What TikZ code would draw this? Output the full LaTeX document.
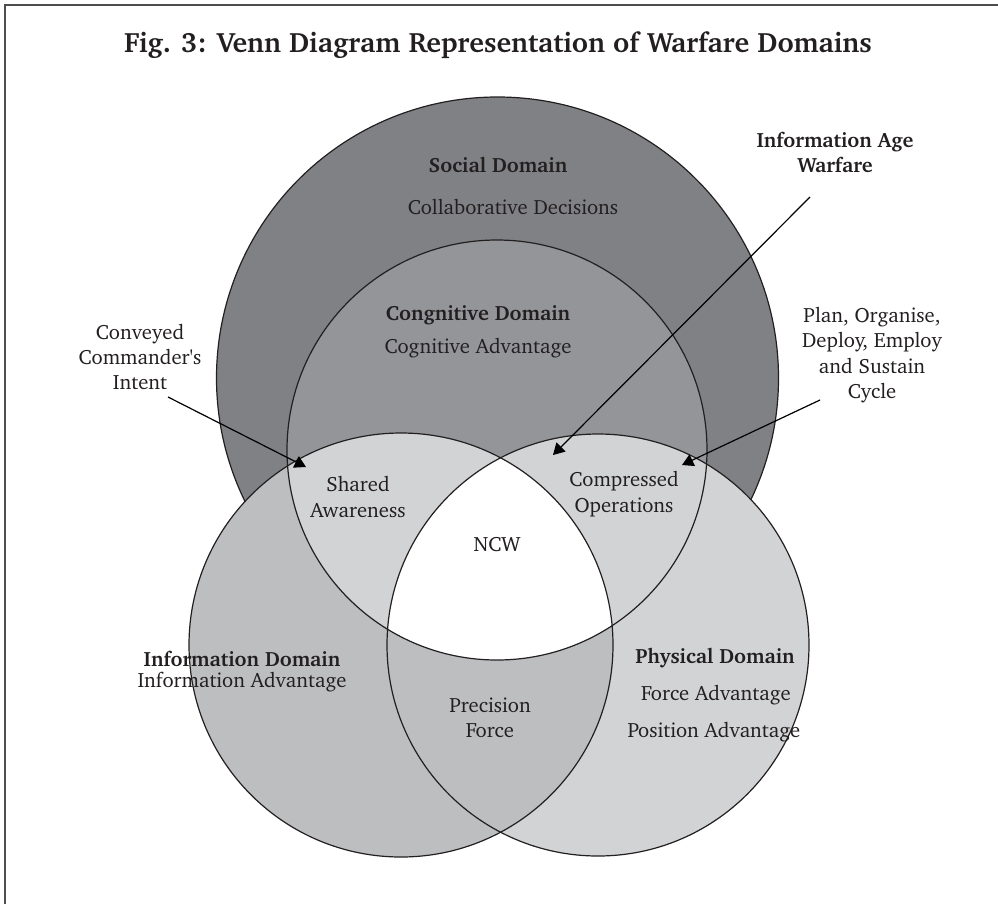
\documentclass[tikz,border=0pt]{standalone}
\usepackage[T1]{fontenc}
\usepackage{charter}
\usetikzlibrary{arrows.meta}

\definecolor{socialgray}{HTML}{808184}
\definecolor{coggray}{HTML}{939598}
\definecolor{infogray}{HTML}{BCBEC0}
\definecolor{physgray}{HTML}{D1D3D4}
\definecolor{inkgray}{HTML}{231F20}
\definecolor{framegray}{HTML}{4D4D4D}

\tikzset{
  lbl/.style={text=inkgray, font=\fontsize{15.5}{19}\selectfont, align=center, inner sep=0pt},
  hdr/.style={lbl, font=\bfseries\fontsize{15.5}{19}\selectfont},
  rim/.style={draw=inkgray, line width=0.9pt},
  pointer/.style={draw=black, line width=0.9pt, -{Triangle[length=8.5pt,width=9.5pt]}},
}

\begin{document}
\begin{tikzpicture}[x=0.75pt, y=-0.75pt]
\useasboundingbox (0,0) rectangle (998,904);

% open frame: top and left rules
\draw[framegray, line width=1.1pt] (5,904) -- (5,5) -- (998,5);

% circle centres
\coordinate (cS) at (497.5,378);
\coordinate (cC) at (497,450);
\coordinate (cI) at (401,645);
\coordinate (cP) at (598,645);

% social domain
\fill[socialgray] (cS) circle[radius=210.75pt];
\draw[rim] (cS) circle[radius=210.75pt];
% cognitive domain
\fill[coggray] (cC) circle[radius=157.5pt];
% physical and information domains
\fill[physgray] (cP) circle[radius=158.25pt];
\fill[infogray] (cI) circle[radius=159pt];
% shared awareness: information and cognitive
\begin{scope}
  \clip (cI) circle[radius=159pt];
  \fill[physgray] (cC) circle[radius=157.5pt];
\end{scope}
% NCW: all three lower domains
\begin{scope}
  \clip (cI) circle[radius=159pt];
  \clip (cP) circle[radius=158.25pt];
  \fill[white] (cC) circle[radius=157.5pt];
\end{scope}
% outlines
\draw[rim] (cC) circle[radius=157.5pt];
\draw[rim] (cP) circle[radius=158.25pt];
\draw[rim] (cI) circle[radius=159pt];

% title
\node[text=inkgray, font=\bfseries\fontsize{21}{25}\selectfont, inner sep=0pt] (title) at (498,45)
  {Fig. 3: Venn Diagram Representation of Warfare Domains};

% domain labels
\node[hdr] (socH) at (498,165) {Social Domain};
\node[lbl] (socT) at (513,207) {Collaborative Decisions};
\node[hdr] (cogH) at (478,315) {Congnitive Domain};
\node[lbl] (cogT) at (478,348) {Cognitive Advantage};
\node[hdr] (infH) at (242,659) {Information Domain};
\node[lbl] (infT) at (242,682) {Information Advantage};
\node[hdr] (phyH) at (715,658) {Physical Domain};
\node[lbl] (phyT1) at (716,695) {Force Advantage};
\node[lbl] (phyT2) at (714,732) {Position Advantage};

% overlap labels
\node[lbl] (shared) at (358,497) {Shared\\Awareness};
\node[lbl] (compr) at (624,494) {Compressed\\Operations};
\node[lbl] (ncw) at (497,545) {NCW};
\node[lbl] (prec) at (490,718) {Precision\\Force};

% call-outs
\node[hdr] (iaw) at (835,152) {Information Age\\Warfare};
\node[lbl] (intent) at (140,357) {Conveyed\\Commander\textquotesingle s\\Intent};
\node[lbl] (cycle) at (872,355) {Plan, Organise,\\Deploy, Employ\\and Sustain\\Cycle};

% arrows
\coordinate (iawFrom) at (810,197);
\coordinate (iawTo) at (553,455);
\coordinate (intFrom) at (168,397);
\coordinate (intTo) at (306,467);
\coordinate (cycFrom) at (820,400);
\coordinate (cycTo) at (682,465);
\draw[pointer] (iawFrom) -- (iawTo);
\draw[pointer] (intFrom) -- (intTo);
\draw[pointer] (cycFrom) -- (cycTo);
\end{tikzpicture}
\end{document}
